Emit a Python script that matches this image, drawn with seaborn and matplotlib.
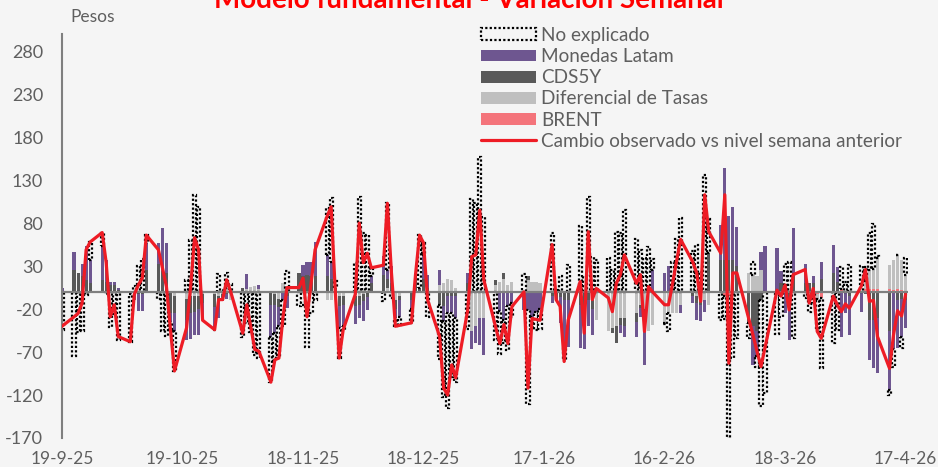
import numpy as np
import pandas as pd
import matplotlib
matplotlib.use("Agg")
import matplotlib.pyplot as plt
import seaborn as sns
from matplotlib.patches import Patch
from matplotlib.lines import Line2D

# ---------------- data (business days 19-9-25 .. 17-4-26) ----------------
fechas = pd.bdate_range("2025-09-19", "2026-04-17")

cambio_observado = [
    -40,
    -29, -25, -13, 49, 58,
    69, 34, -29, -15, -52,
    -58, -3, 8, 16, 66,
    49, 28, 6, -44, -92,
    -42, 5, 63, 49, -33,
    -44, -9, -9, 14, 0,
    -48, -15, -41, -67, -69,
    -105, -79, -77, -30, 5,
    5, 16, -29, 10, 49,
    88, 99, 3, -77, -44,
    -3, 80, 34, 45, 28,
    31, 103, 23, -40, -39,
    -36, 20, 66, 57, -9,
    -52, -112, -120, -85, -100,
    -21, 41, 43, 95, 14,
    -42, -60, -38, -60, -17,
    0, -112, -31, -32, -33,
    55, -9, -17, -81, -33,
    12, -48, 70, -9, 4,
    -7, -23, 10, 20, 43,
    10, 20, -46, 6, 0,
    -15, -15, 10, 36, 61,
    35, 22, -11, 113, 70,
    45, 113, -83, 22, 22,
    -32, -50, -69, -87, -65,
    2, -5, 8, -21, 20,
    26, -13, 4, -46, -54,
    -5, -15, -23, -14, -19,
    7, 26, -11, -10, -52,
    -89, -50, -22, -28, -3,
]

brent = [
    0,
    0, 0, 0, 0, 0,
    0, 0, 0, 0, 0,
    0, 0, 0, 0, 0,
    0, 0, 0, 0, 0,
    0, 0, 0, 0, 0,
    0, 0, 0, 0, 0,
    0, 0, 0, 0, 0,
    0, 0, 0, 0, 0,
    0, 0, 0, 0, 0,
    0, 0, 0, 0, 0,
    0, 0, 0, 0, 0,
    0, 0, 0, 0, 0,
    0, 0, 0, 0, 0,
    0, 0, 0, 0, 0,
    0, 0, 0, 0, 0,
    0, 0, 0, 0, 0,
    0, 0, 0, 0, 0,
    0, 0, 0, 0, 0,
    0, 0, 0, 0, 0,
    0, 0, 0, 0, 0,
    0, 0, 0, 0, 0,
    0, 0, 0, 0, 0,
    0, 0, 0, 0, 0,
    0, -5, -5, 0, 0,
    0, 0, 0, 0, 0,
    0, 0, 0, 0, 0,
    0, 0, 0, -3, -7,
    0, 0, 3, 0, 0,
    0, 3, 3, 3, 3,
    3, 2, 3, 2, 0,
]

diferencial_tasas = [
    0,
    0, 0, 0, 0, 0,
    0, 0, 0, 0, 0,
    0, 0, 0, 0, 0,
    0, 0, 0, 0, -5,
    -8, -5, -5, -5, -3,
    -3, -5, -3, 4, -9,
    0, 3, 6, 7, 3,
    0, -3, -8, 10, 0,
    0, 0, 0, 0, 0,
    -9, -10, -10, -5, -5,
    -5, -5, -3, 0, 0,
    0, 5, 0, -10, -5,
    0, 0, 0, 0, 0,
    8, 10, 15, 14, 5,
    0, -46, -40, -30, -30,
    8, 12, 15, 8, 12,
    0, 14, 12, 12, 10,
    0, 0, 0, 0, 0,
    0, 0, 0, -10, -33,
    -46, -42, -40, -30, -30,
    -25, -15, -20, -46, -38,
    -36, -25, -25, -25, -15,
    0, -5, -5, -10, -15,
    0, 0, 0, 0, 0,
    22, 20, 18, 26, 0,
    0, 0, 0, 0, 0,
    0, 0, 0, -5, 0,
    0, 0, 0, 0, 0,
    0, 10, 22, 24, 36,
    28, 35, 40, 35, 20,
]

cds5y = [
    0,
    25, 22, 18, 14, 10,
    14, 12, 8, 8, 2,
    0, 0, -2, -3, 25,
    33, 24, 22, -25, -20,
    -25, -20, -18, -15, -10,
    -15, -5, -3, -3, 0,
    4, 0, 0, 0, 0,
    -15, -12, -10, 0, -5,
    22, 18, 20, 18, 18,
    18, 15, 5, -12, -10,
    -12, -10, -8, -6, 10,
    20, 10, 10, -10, -5,
    -10, 18, 5, 15, 5,
    -15, -17, -5, -5, -5,
    10, 0, 0, 0, 0,
    6, 0, 7, 0, 0,
    0, 4, 0, 0, 0,
    -5, -11, -6, -10, -10,
    -15, -17, -10, -10, 0,
    0, -6, -20, -8, -10,
    -10, -4, -10, 0, 0,
    0, 0, 0, 0, 0,
    -5, -8, -10, 0, 45,
    37, 37, 37, 37, 30,
    -36, -40, -45, -10, 0,
    0, 10, 0, -10, 20,
    10, 10, 10, 0, 15,
    22, 12, 0, 0, -5,
    0, -3, -33, -33, -30,
    -46, 0, -10, -8, -10,
]

monedas_latam = [
    4,
    21, 0, 15, 39, 27,
    39, 25, 4, 3, 2,
    -3, -10, -20, -19, 32,
    24, 50, 35, -10, -20,
    -23, -30, -27, -30, -20,
    -25, -20, -5, -5, 0,
    0, 18, 0, 0, 5,
    -37, -33, -22, -10, -14,
    0, 13, 15, 17, 40,
    25, 20, 0, -25, -25,
    -20, -15, -23, -15, 8,
    22, 10, 20, -10, -19,
    -10, 0, 0, 28, 15,
    18, -17, -20, -20, -25,
    12, -21, -20, -32, -43,
    0, -22, -33, -17, -13,
    -21, -21, -29, -23, -20,
    -8, 0, -30, -54, -54,
    -50, -50, -30, -30, 0,
    0, 0, 0, -10, -12,
    -17, -10, -55, 0, 26,
    22, 30, 0, 0, -10,
    -8, -20, -19, -13, 0,
    41, 107, 51, 62, 46,
    0, -45, -30, 20, 53,
    51, 14, -25, -46, 54,
    23, 0, 8, 0, 20,
    33, 17, -52, -25, -45,
    -23, 0, -46, -56, -64,
    -68, -67, -55, -44, -32,
]

no_explicado = [
    -44,
    -75, -47, -46, -4, 21,
    16, -3, -41, -26, -56,
    -55, 7, 30, 38, 9,
    -8, -46, -51, -9, -47,
    14, 60, 113, 99, 0,
    -1, 21, 2, 18, 9,
    -52, -36, -47, -74, -77,
    -53, -31, -37, -30, 24,
    -17, -15, -64, -25, -9,
    54, 74, 8, -35, -4,
    34, 110, 68, 66, 10,
    -11, 78, -7, -10, -10,
    -16, 2, 61, 14, -29,
    -63, -88, -110, -74, -75,
    -43, 108, 103, 157, 87,
    -56, -50, -27, -51, -16,
    21, -109, -14, -21, -23,
    68, 2, 19, -17, 31,
    77, 19, 110, 41, 37,
    39, 25, 70, 68, 95,
    62, 49, 39, 52, 12,
    -1, -20, 35, 61, 86,
    48, 55, 23, 136, 40,
    -33, -26, -166, -77, -54,
    -18, 15, -12, -123, -118,
    -49, -29, 33, 35, -54,
    -7, -23, -14, -38, -82,
    -60, -44, 26, 11, 31,
    30, 16, 43, 52, 3,
    -6, -20, 0, -13, 19,
]

tick_fechas = ["2025-09-19", "2025-10-19", "2025-11-18", "2025-12-18",
               "2026-01-17", "2026-02-16", "2026-03-18", "2026-04-17"]
y_ticks = [-170, -120, -70, -20, 30, 80, 130, 180, 230, 280]

titulo = "Modelo fundamental - Variación Semanal"
nombres = ["No explicado", "Monedas Latam", "CDS5Y", "Diferencial de Tasas",
           "BRENT", "Cambio observado vs nivel semana anterior"]

# ---------------- style ----------------
BG = "#f5f5f5"
C_MON = "#6e5690"
C_CDS = "#595959"
C_DIF = "#bfbfbf"
C_BRENT = "#f4747b"
C_LINE = "#ee1c25"
C_TXT = "#5f5f5f"
DOT = (0, (1, 1))

sns.set_theme(style="white")
plt.rcParams["font.family"] = ["Lato", "DejaVu Sans"]

fig = plt.figure(figsize=(9.38, 4.67), dpi=100, facecolor=BG)
ax = fig.add_axes([62 / 938, 29 / 467, 846 / 938, 404 / 467])
ax.set_facecolor(BG)

start = fechas[0]
x = np.asarray((fechas - start).days, dtype=float)
n = len(x)

layers = [
    (brent, dict(color=C_BRENT, linewidth=0)),
    (diferencial_tasas, dict(color=C_DIF, linewidth=0)),
    (cds5y, dict(color=C_CDS, linewidth=0)),
    (monedas_latam, dict(color=C_MON, linewidth=0)),
    (no_explicado, dict(facecolor=BG, edgecolor="black", linewidth=1.6, linestyle=DOT)),
]
pos = np.zeros(n)
neg = np.zeros(n)
for vals, st in layers:
    v = np.asarray(vals, dtype=float)
    bottom = np.where(v >= 0, pos, neg)
    ax.bar(x, v, bottom=bottom, width=0.78, zorder=2, **st)
    pos += np.clip(v, 0, None)
    neg += np.clip(v, None, 0)

ax.axhline(0, color="#7f7f7f", lw=1.6, zorder=3)

df_line = pd.DataFrame({"x": x, "y": cambio_observado})
sns.lineplot(data=df_line, x="x", y="y", ax=ax, color=C_LINE, lw=2.3,
             zorder=5, estimator=None, sort=False)

ax.set_xlim(0, 210.6)
ax.set_ylim(-170, 300)
ax.set_yticks(y_ticks)
ax.set_yticklabels([str(t) for t in y_ticks])
tf = pd.to_datetime(tick_fechas)
ax.set_xticks(np.asarray((tf - start).days, dtype=float))
ax.set_xticklabels([f"{d.day}-{d.month}-{d.year % 100}" for d in tf])
ax.tick_params(axis="y", length=0, pad=13.5, labelsize=13, labelcolor=C_TXT)
ax.tick_params(axis="x", length=0, pad=9, labelsize=12.5, labelcolor=C_TXT)
ax.set_xlabel("")
ax.set_ylabel("")
for s in ["top", "right", "bottom"]:
    ax.spines[s].set_visible(False)
ax.spines["left"].set_color("#7f7f7f")
ax.spines["left"].set_linewidth(1.5)
ax.grid(False)

handles = [
    Patch(facecolor=BG, edgecolor="black", linestyle=DOT, linewidth=1.6),
    Patch(facecolor=C_MON, edgecolor="none"),
    Patch(facecolor=C_CDS, edgecolor="none"),
    Patch(facecolor=C_DIF, edgecolor="none"),
    Patch(facecolor=C_BRENT, edgecolor="none"),
    Line2D([0], [0], color=C_LINE, lw=2.3),
]
leg = fig.legend(handles, nombres, loc="upper left",
                 bbox_to_anchor=(481 / 938, 1 - 27 / 467),
                 frameon=False, fontsize=13.6, labelspacing=0.22,
                 handlelength=2.9, handleheight=0.6, handletextpad=0.3,
                 borderpad=0, borderaxespad=0)
for t in leg.get_texts():
    t.set_color(C_TXT)

fig.text(70 / 938, 1 - 17 / 467, "Pesos", ha="left", va="center",
         fontsize=12.5, color=C_TXT)
fig.text(0.5, 1 - 8 / 467, titulo, ha="center", va="baseline",
         fontsize=20, fontweight="bold", color="#ff0000")

fig.savefig("out.png", dpi=100, facecolor=BG)
